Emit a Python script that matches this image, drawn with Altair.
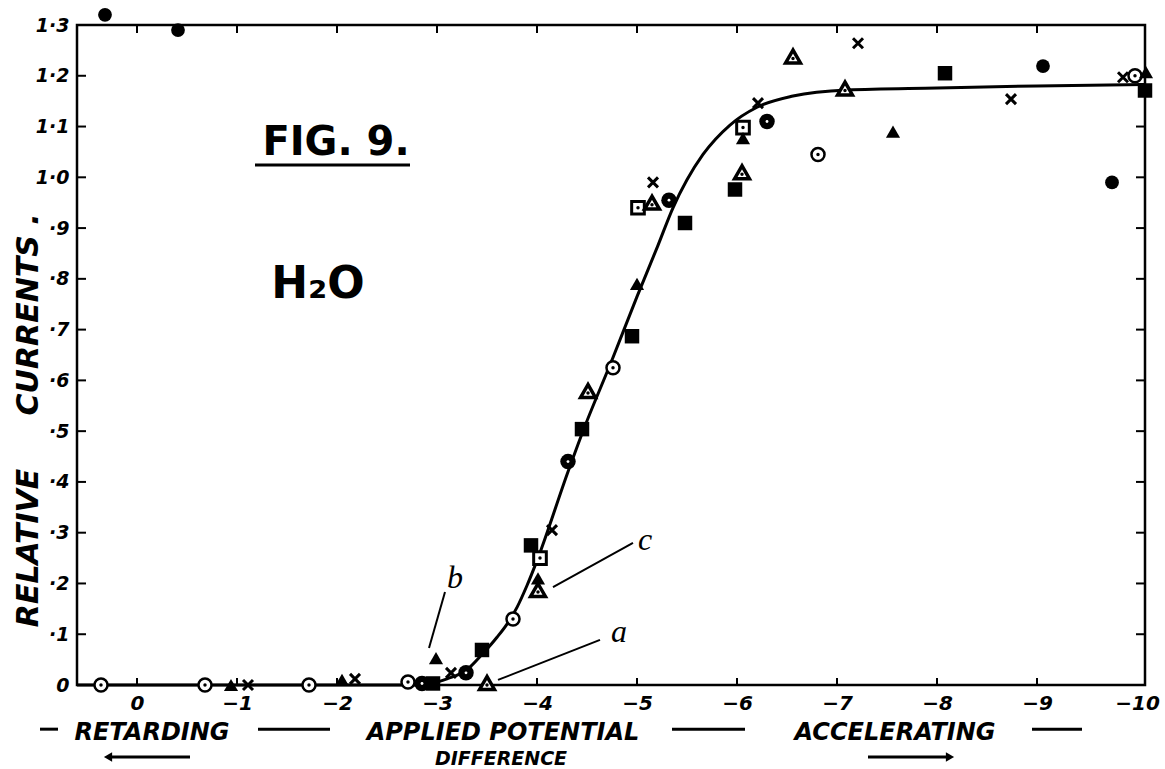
import altair as alt
import pandas as pd

# ---------------- data ----------------
# open circle with centre dot
DOTCIRC_X = [0.36, -0.68, -1.72, -2.71, -3.76, -4.76, -6.81, -9.98]
DOTCIRC_Y = [0.0, 0.0, 0.0, 0.006, 0.13, 0.625, 1.045, 1.20]
# dark circle with light specks
SPECK_X = [-2.85, -3.29, -4.31, -5.32, -6.30]
SPECK_Y = [0.003, 0.024, 0.44, 0.955, 1.11]
# filled squares
SQ_X = [-2.96, -3.45, -3.94, -4.45, -4.95, -5.48, -5.98, -8.08, -10.08]
SQ_Y = [0.003, 0.069, 0.275, 0.504, 0.687, 0.91, 0.976, 1.205, 1.171]
# open squares with dot
OSQ_X = [-4.03, -5.01, -6.06]
OSQ_Y = [0.25, 0.94, 1.098]
# filled triangles
TRI_X = [-0.94, -2.05, -2.99, -4.01, -5.00, -6.06, -7.56, -10.09]
TRI_Y = [0.0, 0.01, 0.053, 0.21, 0.79, 1.077, 1.09, 1.207]
# open triangles with dots
OTRI_X = [-3.50, -4.01, -4.51, -5.15, -6.05, -6.56, -7.08]
OTRI_Y = [0.004, 0.187, 0.579, 0.95, 1.01, 1.238, 1.175]
# crosses
CROSS_X = [-1.11, -2.18, -3.14, -4.15, -5.16, -6.21, -7.21, -8.74, -9.86]
CROSS_Y = [0.0, 0.012, 0.024, 0.305, 0.99, 1.146, 1.264, 1.154, 1.197]
# filled circles
DOT_X = [0.32, -0.41, -9.06, -9.75]
DOT_Y = [1.32, 1.29, 1.219, 0.99]

# drawn curve
CURVE_X = [0.6, -2.8, -2.95, -3.1, -3.3, -3.45, -3.6, -3.7, -3.8, -3.9, -4.0,
           -4.31, -4.45, -4.76, -5.0, -5.21, -5.36, -5.5, -5.66, -5.93, -6.2,
           -6.56, -7.1, -8.0, -9.0, -10.08]
CURVE_Y = [0.0, 0.0, 0.003, 0.012, 0.03, 0.06, 0.094, 0.12, 0.153, 0.196, 0.245,
           0.42, 0.495, 0.645, 0.765, 0.866, 0.94, 0.995, 1.045, 1.103, 1.138,
           1.16, 1.172, 1.176, 1.18, 1.183]

# axis ticks
X_TICKS = [0, -1, -2, -3, -4, -5, -6, -7, -8, -9, -10]
Y_TICKS = [0.0, 0.1, 0.2, 0.3, 0.4, 0.5, 0.6, 0.7, 0.8, 0.9, 1.0, 1.1, 1.2, 1.3]

# leader lines for a, b, c
LEAD_X = [-2.92, -4.16, -3.61]
LEAD_X2 = [-3.08, -4.96, -4.63]
LEAD_Y = [0.073, 0.193, 0.01]
LEAD_Y2 = [0.183, 0.28, 0.089]
LEAD_TXT = ["b", "c", "a"]
LEAD_TX = [-3.18, -5.08, -4.82]
LEAD_TY = [0.21, 0.285, 0.104]

# bottom caption pieces
CAP_TXT = ["RETARDING", "APPLIED POTENTIAL", "ACCELERATING", "DIFFERENCE"]
CAP_X = [-0.15, -3.66, -7.58, -3.64]
CAP_Y = [-0.108, -0.108, -0.108, -0.157]
CAP_SIZE = [24, 24, 24, 19]
DASH_X = [0.97, -1.21, -5.35, -8.95]
DASH_X2 = [0.79, -1.93, -6.08, -9.45]
DASH_Y = [-0.087, -0.087, -0.087, -0.087]
ARROW_X = [0.29, -7.31]
ARROW_X2 = [-0.53, -8.13]
ARROW_Y = [-0.142, -0.142]
ARROW_HEAD_X = [0.29, -8.13]
ARROW_HEAD_SHAPE = ["triangle-left", "triangle-right"]

# y-axis title pieces (rotated)
YT_TXT = ["RELATIVE", "CURRENTS ."]
YT_X = [1.08, 1.08]
YT_Y = [0.27, 0.73]

# ---------------- chart ----------------
FONT = "DejaVu Sans"
xs = alt.Scale(domain=[-10.08, 0.6], reverse=True, nice=False, zero=False)
ys = alt.Scale(domain=[0, 1.3], nice=False, zero=False)

x_axis = alt.Axis(values=X_TICKS, labelExpr="datum.value == 0 ? '0' : '\u2212' + (-datum.value)",
                  domain=False, ticks=False, grid=False, title=None,
                  labelFont=FONT, labelFontWeight="bold", labelFontStyle="italic",
                  labelFontSize=20, labelColor="black", labelPadding=8)
y_axis = alt.Axis(values=Y_TICKS,
                  labelExpr="datum.value == 0 ? '0' : (datum.value >= 0.95 ? replace(format(datum.value, '.1f'), '.', '\u00b7') : '\u00b7' + format(datum.value * 10, '.0f'))",
                  domain=False, ticks=False, grid=False, title=None,
                  labelFont=FONT, labelFontWeight="bold", labelFontStyle="italic",
                  labelFontSize=19, labelColor="black", labelPadding=8)


def pts(xv, yv):
    return pd.DataFrame({"x": xv, "y": yv})


def X():
    return alt.X("x:Q", scale=xs, axis=x_axis)


def Y():
    return alt.Y("y:Q", scale=ys, axis=y_axis)


curve = alt.Chart(pts(CURVE_X, CURVE_Y)).mark_line(
    color="black", strokeWidth=3, interpolate="monotone"
).encode(x=X(), y=Y())

# inward ticks
left_t = pd.DataFrame({"x": [0.6] * 12, "x2": [0.51] * 12, "y": Y_TICKS[1:13]})
right_t = pd.DataFrame({"x": [-10.08] * 12, "x2": [-9.99] * 12, "y": Y_TICKS[1:13]})
top_t = pd.DataFrame({"x": X_TICKS[:10], "y": [1.3] * 10, "y2": [1.284] * 10})
bot_t = pd.DataFrame({"x": X_TICKS[:10], "y": [0.0] * 10, "y2": [0.014] * 10})
ticks = alt.layer(
    alt.Chart(left_t).mark_rule(color="black", strokeWidth=2).encode(x=X(), x2="x2:Q", y=Y()),
    alt.Chart(right_t).mark_rule(color="black", strokeWidth=2).encode(x=X(), x2="x2:Q", y=Y()),
    alt.Chart(top_t).mark_rule(color="black", strokeWidth=2).encode(x=X(), y=Y(), y2="y2:Q"),
    alt.Chart(bot_t).mark_rule(color="black", strokeWidth=2).encode(x=X(), y=Y(), y2="y2:Q"),
)

CROSS_PATH = "M-1,-1L1,1M1,-1L-1,1"

markers = alt.layer(
    alt.Chart(pts(DOTCIRC_X, DOTCIRC_Y)).mark_point(
        shape="circle", filled=True, fill="white", stroke="black", strokeWidth=2.5, size=170, opacity=1
    ).encode(x=X(), y=Y()),
    alt.Chart(pts(DOTCIRC_X, DOTCIRC_Y)).mark_point(
        shape="circle", filled=True, color="black", size=12, opacity=1
    ).encode(x=X(), y=Y()),
    alt.Chart(pts(SPECK_X, SPECK_Y)).mark_point(
        shape="circle", filled=True, color="black", size=240, opacity=1
    ).encode(x=X(), y=Y()),
    alt.Chart(pts(SPECK_X, SPECK_Y)).mark_point(
        shape="circle", filled=True, color="white", size=8, opacity=1
    ).encode(x=X(), y=Y()),
    alt.Chart(pts(SQ_X, SQ_Y)).mark_point(
        shape="square", filled=True, color="black", size=210, opacity=1
    ).encode(x=X(), y=Y()),
    alt.Chart(pts(OSQ_X, OSQ_Y)).mark_point(
        shape="square", filled=True, fill="white", stroke="black", strokeWidth=3, size=160, opacity=1
    ).encode(x=X(), y=Y()),
    alt.Chart(pts(OSQ_X, OSQ_Y)).mark_point(
        shape="circle", filled=True, color="black", size=12, opacity=1
    ).encode(x=X(), y=Y()),
    alt.Chart(pts(TRI_X, TRI_Y)).mark_point(
        shape="triangle-up", filled=True, color="black", size=200, opacity=1
    ).encode(x=X(), y=Y()),
    alt.Chart(pts(OTRI_X, OTRI_Y)).mark_point(
        shape="triangle-up", filled=True, fill="white", stroke="black", strokeWidth=3.5, size=220, opacity=1
    ).encode(x=X(), y=Y()),
    alt.Chart(pts(OTRI_X, OTRI_Y)).mark_point(
        shape="circle", filled=True, color="black", size=12, opacity=1, yOffset=2
    ).encode(x=X(), y=Y()),
    alt.Chart(pts(CROSS_X, CROSS_Y)).mark_point(
        shape=CROSS_PATH, filled=False, color="black", strokeWidth=3, size=100, opacity=1
    ).encode(x=X(), y=Y()),
    alt.Chart(pts(DOT_X, DOT_Y)).mark_point(
        shape="circle", filled=True, color="black", size=190, opacity=1
    ).encode(x=X(), y=Y()),
)

lead_df = pd.DataFrame({"x": LEAD_X, "x2": LEAD_X2, "y": LEAD_Y, "y2": LEAD_Y2})
lead_txt = pd.DataFrame({"x": LEAD_TX, "y": LEAD_TY, "t": LEAD_TXT})
leaders = alt.layer(
    alt.Chart(lead_df).mark_rule(color="black", strokeWidth=2).encode(x=X(), x2="x2:Q", y=Y(), y2="y2:Q"),
    alt.Chart(lead_txt).mark_text(font="Liberation Serif", fontStyle="italic", fontSize=32,
                                  color="black", baseline="middle", align="center").encode(
        x=X(), y=Y(), text="t:N"),
)

fig_df = pd.DataFrame({"x": [-1.99], "y": [1.043], "t": ["FIG. 9."]})
h2o_df = pd.DataFrame({"x": [-1.81], "y": [0.762], "t": ["H\u2082O"]})
ul_df = pd.DataFrame({"x": [-1.18], "x2": [-2.73], "y": [1.024]})
titles = alt.layer(
    alt.Chart(fig_df).mark_text(font=FONT, fontWeight="bold", fontSize=40, color="black",
                                baseline="alphabetic", align="center").encode(x=X(), y=Y(), text="t:N"),
    alt.Chart(h2o_df).mark_text(font=FONT, fontWeight="bold", fontSize=44, color="black",
                                baseline="alphabetic", align="center").encode(x=X(), y=Y(), text="t:N"),
    alt.Chart(ul_df).mark_rule(color="black", strokeWidth=3).encode(x=X(), x2="x2:Q", y=Y()),
)

cap_df = pd.DataFrame({"x": CAP_X, "y": CAP_Y, "t": CAP_TXT, "s": CAP_SIZE})
dash_df = pd.DataFrame({"x": DASH_X, "x2": DASH_X2, "y": DASH_Y})
arrow_df = pd.DataFrame({"x": ARROW_X, "x2": ARROW_X2, "y": ARROW_Y})
head_df = pd.DataFrame({"x": ARROW_HEAD_X, "y": ARROW_Y, "sh": ARROW_HEAD_SHAPE})
yt_df = pd.DataFrame({"x": YT_X, "y": YT_Y, "t": YT_TXT})
captions = alt.layer(
    alt.Chart(cap_df).mark_text(font=FONT, fontWeight="bold", fontStyle="italic", color="black",
                                baseline="alphabetic", align="center").encode(
        x=X(), y=Y(), text="t:N", size=alt.Size("s:Q", scale=None, legend=None)),
    alt.Chart(dash_df).mark_rule(color="black", strokeWidth=3).encode(x=X(), x2="x2:Q", y=Y()),
    alt.Chart(arrow_df).mark_rule(color="black", strokeWidth=3).encode(x=X(), x2="x2:Q", y=Y()),
    alt.Chart(head_df).mark_point(filled=True, color="black", size=90, opacity=1).encode(
        x=X(), y=Y(), shape=alt.Shape("sh:N", scale=None, legend=None)),
    alt.Chart(yt_df).mark_text(font=FONT, fontWeight="bold", fontStyle="italic", fontSize=30,
                               color="black", angle=270, baseline="middle", align="center").encode(
        x=X(), y=Y(), text="t:N"),
)

chart = alt.layer(curve, ticks, markers, leaders, titles, captions).properties(
    width=1068, height=660,
    autosize=alt.AutoSizeParams(type="none"),
    padding={"left": 77, "top": 25, "right": 20, "bottom": 84},
    background="white",
).configure_view(stroke="black", strokeWidth=2.5)

chart.save("out.html", embed_options={"renderer": "svg", "actions": False})
